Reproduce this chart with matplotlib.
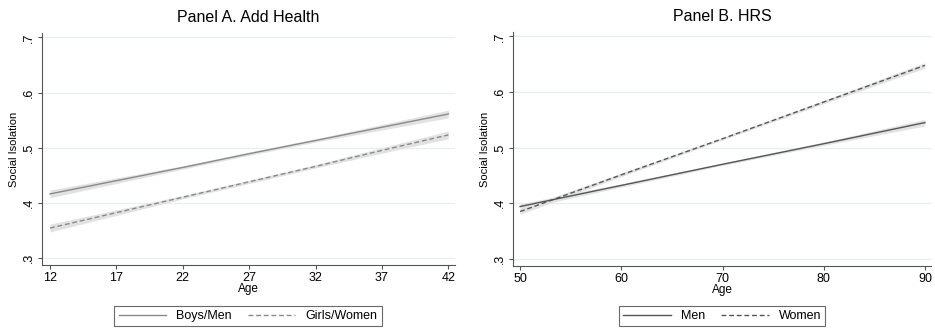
import matplotlib
matplotlib.use('Agg')
import matplotlib.pyplot as plt

plt.rcParams['font.family'] = ['Liberation Sans', 'DejaVu Sans']

# Panel A: Add Health
ages_a = [12, 17, 22, 27, 32, 37, 42]
boys = [0.416, 0.440, 0.464, 0.489, 0.513, 0.537, 0.561]
boys_lo = [0.409, 0.435, 0.461, 0.486, 0.510, 0.532, 0.554]
boys_hi = [0.423, 0.445, 0.467, 0.492, 0.516, 0.542, 0.568]
girls = [0.354, 0.382, 0.410, 0.438, 0.466, 0.495, 0.523]
girls_lo = [0.347, 0.377, 0.407, 0.435, 0.463, 0.490, 0.516]
girls_hi = [0.361, 0.387, 0.413, 0.441, 0.469, 0.500, 0.530]
ticks_a = [12, 17, 22, 27, 32, 37, 42]

# Panel B: HRS
ages_b = [50, 60, 70, 80, 90]
men = [0.394, 0.432, 0.470, 0.507, 0.545]
men_lo = [0.389, 0.429, 0.468, 0.504, 0.539]
men_hi = [0.399, 0.435, 0.472, 0.510, 0.551]
women = [0.385, 0.451, 0.516, 0.582, 0.648]
women_lo = [0.380, 0.448, 0.514, 0.579, 0.643]
women_hi = [0.390, 0.454, 0.518, 0.585, 0.653]
ticks_b = [50, 60, 70, 80, 90]

yticks = [0.3, 0.4, 0.5, 0.6, 0.7]
ylabels = ['.3', '.4', '.5', '.6', '.7']

BAND = '#e2e2e2'
GRID = '#e6f0f2'


def style_axes(ax, title, xticks, xlim):
    ax.set_title(title, fontsize=11.5, pad=8)
    ax.set_xlim(*xlim)
    ax.set_ylim(0.287, 0.708)
    ax.set_xticks(xticks)
    ax.set_yticks(yticks)
    ax.set_yticklabels(ylabels, rotation=90, va='center')
    ax.grid(axis='y', color=GRID, linewidth=0.9)
    ax.set_axisbelow(True)
    for s in ['top', 'right']:
        ax.spines[s].set_visible(False)
    for s in ['left', 'bottom']:
        ax.spines[s].set_color('#555555')
        ax.spines[s].set_linewidth(0.8)
    ax.tick_params(labelsize=9, length=3, color='#555555', pad=2)
    ax.set_xlabel('Age', fontsize=8.5, labelpad=-1)
    ax.set_ylabel('Social Isolation', fontsize=8, labelpad=3)


fig = plt.figure(figsize=(9.35, 3.33), dpi=100)
ax1 = fig.add_axes([42 / 935, 1 - 265 / 333, 413 / 935, 232 / 333])
ax2 = fig.add_axes([513 / 935, 1 - 266 / 333, 418 / 935, 234 / 333])

ax1.fill_between(ages_a, boys_lo, boys_hi, color=BAND, linewidth=0)
ax1.fill_between(ages_a, girls_lo, girls_hi, color=BAND, linewidth=0)
ax1.plot(ages_a, boys, color='#8a8a8a', lw=1.0, label='Boys/Men')
ax1.plot(ages_a, girls, color='#8a8a8a', lw=1.0, ls=(0, (3.5, 2)), label='Girls/Women')
style_axes(ax1, 'Panel A. Add Health', ticks_a, (11.4, 42.5))

ax2.fill_between(ages_b, men_lo, men_hi, color=BAND, linewidth=0)
ax2.fill_between(ages_b, women_lo, women_hi, color=BAND, linewidth=0)
ax2.plot(ages_b, men, color='#555555', lw=1.0, label='Men')
ax2.plot(ages_b, women, color='#555555', lw=1.0, ls=(0, (3.5, 2)), label='Women')
style_axes(ax2, 'Panel B. HRS', ticks_b, (49.3, 90.6))

for ax, anchor in [(ax1, (248 / 935, 1 - 316 / 333)), (ax2, (722 / 935, 1 - 316 / 333))]:
    leg = ax.legend(loc='center', bbox_to_anchor=anchor, bbox_transform=fig.transFigure,
                    ncol=2, fontsize=9, frameon=True, fancybox=False, handlelength=3.8,
                    columnspacing=1.3, handletextpad=0.8, borderpad=0.35)
    leg.get_frame().set_edgecolor('#444444')
    leg.get_frame().set_linewidth(0.8)

fig.savefig('out.png', dpi=100)
